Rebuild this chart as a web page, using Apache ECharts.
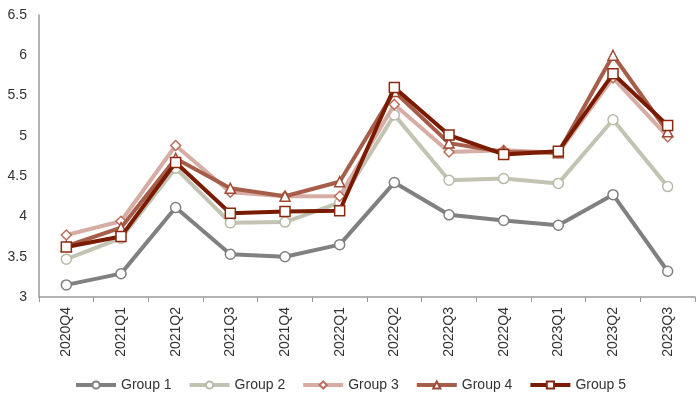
<!DOCTYPE html>
<html><head><meta charset="utf-8">
<script src="https://cdn.jsdelivr.net/npm/echarts@6/dist/echarts.min.js"></script>
<style>html,body{margin:0;padding:0;background:#fff}#c{width:700px;height:402px}</style>
</head><body><div id="c"></div>
<script>
const categories = ['2020Q4','2021Q1','2021Q2','2021Q3','2021Q4','2022Q1','2022Q2','2022Q3','2022Q4','2023Q1','2023Q2','2023Q3'];
const group1 = [3.15, 3.29, 4.11, 3.53, 3.50, 3.65, 4.42, 4.02, 3.95, 3.89, 4.27, 3.32];
const group2 = [3.47, 3.73, 4.60, 3.92, 3.93, 4.17, 5.26, 4.45, 4.47, 4.41, 5.20, 4.37];
const group3 = [3.77, 3.94, 4.88, 4.30, 4.25, 4.25, 5.39, 4.80, 4.82, 4.79, 5.72, 4.99];
const group4 = [3.63, 3.86, 4.72, 4.35, 4.25, 4.43, 5.55, 4.91, 4.80, 4.79, 6.00, 5.05];
const group5 = [3.62, 3.75, 4.67, 4.04, 4.06, 4.07, 5.60, 5.01, 4.77, 4.81, 5.77, 5.13];
const names = ['Group 1','Group 2','Group 3','Group 4','Group 5'];
const yTicks = {min: 3, max: 6.5, interval: 0.5};

const styles = [
  {line:'#808080', border:'#808080', symbol:'circle', size:10},
  {line:'#c3c3b4', border:'#b9b9a8', symbol:'circle', size:10},
  {line:'#d6ada4', border:'#b96e5c', symbol:'diamond', size:10},
  {line:'#a65e4a', border:'#a04a36', symbol:'triangle', size:10},
  {line:'#7a1b00', border:'#8a2a10', symbol:'rect', size:10}
];
const data = [group1, group2, group3, group4, group5];

const chart = echarts.init(document.getElementById('c'));
chart.setOption({
  animation: false,
  textStyle: {fontFamily: 'Liberation Sans, Arial, sans-serif'},
  grid: {left: 39, right: 5, top: 15, bottom: 105, containLabel: false},
  legend: {
    bottom: 5, left: 'center', itemGap: 16, itemWidth: 40, itemHeight: 9,
    textStyle: {fontSize: 14, color: '#333'},
    lineStyle: {width: 4},
    data: names
  },
  xAxis: {
    type: 'category', data: categories, boundaryGap: true,
    axisLine: {lineStyle: {color: '#999', width: 1.5}},
    axisTick: {show: true, length: 5, lineStyle: {color: '#999'}},
    axisLabel: {rotate: 90, fontSize: 14, color: '#333', margin: 10}
  },
  yAxis: {
    type: 'value', min: yTicks.min, max: yTicks.max, interval: yTicks.interval,
    axisLine: {show: true, lineStyle: {color: '#999', width: 1.5}},
    axisTick: {show: false},
    splitLine: {show: false},
    axisLabel: {fontSize: 14, color: '#333', margin: 12}
  },
  series: data.map((d, i) => ({
    name: names[i], type: 'line', data: d,
    symbol: styles[i].symbol, symbolSize: styles[i].size, showAllSymbol: true,
    lineStyle: {color: styles[i].line, width: 4},
    itemStyle: {color: '#fff', borderColor: styles[i].border, borderWidth: 1.5},
    z: 2 + i
  }))
});
</script></body></html>
